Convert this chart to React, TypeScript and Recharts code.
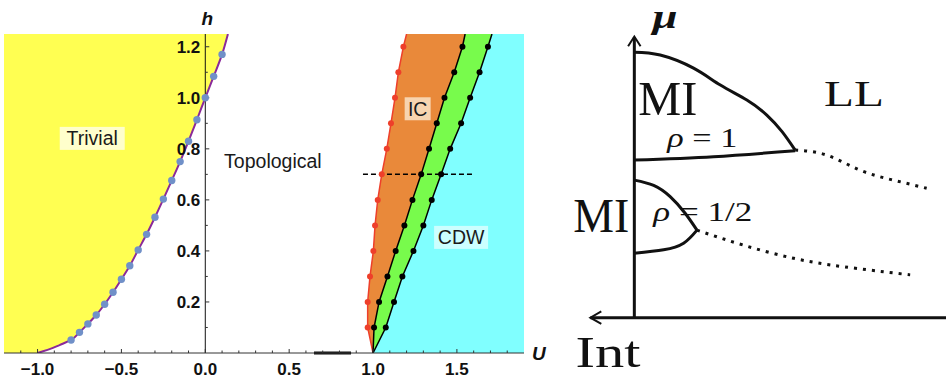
import React from 'react';
import {
  ComposedChart,
  Area,
  Line,
  XAxis,
  YAxis,
  ReferenceLine,
  ReferenceDot,
} from 'recharts';

// ---------- left panel: U-h phase diagram ----------
const uMin = -1.2;
const uMax = 1.9;
const hMax = 1.25;

const xMajorTicks = [-1.0, -0.5, 0.0, 0.5, 1.0, 1.5];
const xMinorTicks = [-1.1, -0.9, -0.8, -0.7, -0.6, -0.4, -0.3, -0.2, -0.1, 0.1, 0.2, 0.3, 0.4, 0.6, 0.7, 0.8, 0.9, 1.1, 1.2, 1.3, 1.4, 1.6, 1.7, 1.8];
const yMajorTicks = [0.2, 0.4, 0.6, 0.8, 1.0, 1.2];
const yMinorTicks = [0.1, 0.3, 0.5, 0.7, 0.9, 1.1];

// trivial / topological boundary
const trivialFootU = [-1.0, -0.928, -0.869];
const trivialFootH = [0.0, 0.015, 0.031];
const trivialDotsU = [-0.8, -0.75, -0.7, -0.65, -0.6, -0.55, -0.5, -0.45, -0.4, -0.35, -0.3, -0.25, -0.2, -0.15, -0.1, -0.05, 0.0, 0.05, 0.1];
const trivialDotsH = [0.051, 0.081, 0.114, 0.149, 0.191, 0.238, 0.289, 0.342, 0.404, 0.465, 0.532, 0.603, 0.676, 0.75, 0.83, 0.914, 1.0, 1.084, 1.17];
const trivialTopU = 0.135;

// IC / bridge / CDW boundaries, sampled at the same h
const phaseH = [0.0, 0.1, 0.2, 0.3, 0.4, 0.5, 0.6, 0.7, 0.8, 0.9, 1.0, 1.1, 1.2, 1.25];
const redU = [1.0, 0.968, 0.968, 0.982, 1.002, 1.012, 1.028, 1.052, 1.082, 1.107, 1.131, 1.151, 1.181, 1.2];
const black1U = [1.0, 1.006, 1.036, 1.086, 1.135, 1.187, 1.235, 1.287, 1.334, 1.38, 1.426, 1.484, 1.533, 1.549];
const black2U = [1.0, 1.076, 1.125, 1.175, 1.241, 1.3, 1.35, 1.406, 1.46, 1.525, 1.579, 1.635, 1.685, 1.709];

const cutH = 0.7;
const cutFrom = 0.94;
const cutTo = 1.6;
const axisBlipFrom = 0.648;
const axisBlipTo = 0.869;

const trivialDots = trivialDotsU.map((U, i) => ({ U, h: trivialDotsH[i] }));
const trivialLine = [
  ...trivialFootU.map((U, i) => ({ U, h: trivialFootH[i] })),
  ...trivialDots,
  { U: trivialTopU, h: hMax },
];
const trivialFill = trivialLine.map((p) => ({ ...p, band: [uMin, p.U] }));

const phaseData = phaseH.map((h, i) => ({
  h,
  red: redU[i],
  b1: black1U[i],
  b2: black2U[i],
  ic: [redU[i], black1U[i]],
  bridge: [black1U[i], black2U[i]],
  cdw: [black2U[i], uMax],
}));
const phaseMeasured = phaseData.slice(1, 13);

// ---------- right panel: sketch ----------
const muAxis = [{ x: 0, y: 0 }, { x: 0, y: 8.97 }];
const muArrow = [{ x: -0.2, y: 8.68 }, { x: 0, y: 8.99 }, { x: 0.2, y: 8.68 }];
const intAxis = [{ x: 10, y: 0 }, { x: -1.41, y: 0 }];
const intArrow = [{ x: -1.06, y: 0.2 }, { x: -1.41, y: 0 }, { x: -1.06, y: -0.2 }];

const upperLobeTop = [
  { x: 0, y: 8.49 }, { x: 0.83, y: 8.4 }, { x: 1.9, y: 7.98 }, { x: 2.76, y: 7.44 },
  { x: 3.61, y: 6.96 }, { x: 4.25, y: 6.48 }, { x: 4.74, y: 5.95 }, { x: 5.16, y: 5.36 },
];
const upperLobeBottom = [{ x: 0, y: 5.04 }, { x: 2.54, y: 5.15 }, { x: 5.16, y: 5.34 }];
const upperDotted = [{ x: 5.16, y: 5.36 }, { x: 6.17, y: 5.2 }, { x: 7.24, y: 4.72 }, { x: 8.31, y: 4.4 }, { x: 9.38, y: 4.14 }];

const lowerLobeTop = [{ x: 0, y: 4.4 }, { x: 0.62, y: 4.23 }, { x: 1.15, y: 3.87 }, { x: 1.63, y: 3.34 }, { x: 2.01, y: 2.8 }];
const lowerLobeBottom = [{ x: 2.01, y: 2.8 }, { x: 1.58, y: 2.38 }, { x: 0.94, y: 2.17 }, { x: 0, y: 2.06 }];
const lowerDotted = [{ x: 2.01, y: 2.8 }, { x: 3.5, y: 2.32 }, { x: 5.11, y: 1.9 }, { x: 6.71, y: 1.63 }, { x: 8.85, y: 1.37 }];

const SANS = '"Liberation Sans", Arial, sans-serif';
const SERIF = '"Liberation Serif", "Times New Roman", serif';

const fmt = (v: number) => (v < 0 ? '\u2212' + Math.abs(v).toFixed(1) : v.toFixed(1));

const XTick = (props: any) => {
  const { x, y, payload } = props;
  const major = xMajorTicks.includes(payload.value);
  return (
    <g>
      <line x1={x} x2={x} y1={y} y2={y - (major ? 4 : 2.5)} stroke="#333" strokeWidth={1} />
      {major && (
        <text x={x} y={y + 22} textAnchor="middle" fontFamily={SANS} fontWeight="bold" fontSize={17} fill="#111">
          {fmt(payload.value)}
        </text>
      )}
    </g>
  );
};

const PhaseLabel = ({ cx, cy, text, bg, w }: any) => (
  <g>
    {bg && <rect x={cx - w / 2} y={cy - 11.5} width={w} height={23} fill={bg} />}
    <text x={cx} y={cy + 7} textAnchor="middle" fontFamily={SANS} fontSize={19.5} fill="#1a1a1a">
      {text}
    </text>
  </g>
);

const SketchText = ({ cx, cy, children, size, len, italic, bold }: any) => (
  <text
    x={cx}
    y={cy}
    fontFamily={SERIF}
    fontSize={size}
    fontStyle={italic ? 'italic' : 'normal'}
    fontWeight={bold ? 'bold' : 'normal'}
    textLength={len}
    lengthAdjust={len ? 'spacingAndGlyphs' : undefined}
    fill="#111"
  >
    {children}
  </text>
);

function PhaseDiagram() {
  return (
    <ComposedChart width={560} height={378} layout="vertical" margin={{ top: 34, right: 36, bottom: 0, left: 4 }}>
      <XAxis
        type="number"
        dataKey="U"
        domain={[uMin, uMax]}
        ticks={[...xMajorTicks, ...xMinorTicks].sort((a, b) => a - b)}
        interval={0}
        tickSize={0}
        tickMargin={0}
        tickLine={false}
        axisLine={{ stroke: '#333' }}
        tick={<XTick />}
        height={25}
        allowDataOverflow
      />
      <YAxis type="number" dataKey="h" domain={[0, hMax]} reversed hide allowDataOverflow />

      <Area data={trivialFill} dataKey="band" type="monotone" fill="#FFFF52" fillOpacity={1} stroke="none" isAnimationActive={false} />
      <Area data={phaseData} dataKey="ic" type="linear" fill="#E9893A" fillOpacity={1} stroke="none" isAnimationActive={false} />
      <Area data={phaseData} dataKey="bridge" type="linear" fill="#78FB4C" fillOpacity={1} stroke="none" isAnimationActive={false} />
      <Area data={phaseData} dataKey="cdw" type="linear" fill="#80FFFF" fillOpacity={1} stroke="none" isAnimationActive={false} />

      <ReferenceLine x={0} stroke="#111" strokeWidth={1} />
      <ReferenceLine segment={[{ x: axisBlipFrom, y: 0 }, { x: axisBlipTo, y: 0 }]} stroke="#111" strokeWidth={3} />
      {yMajorTicks.map((t) => (
        <ReferenceDot
          key={`ym-${t}`}
          x={0}
          y={t}
          ifOverflow="visible"
          shape={(p: any) => (
            <g>
              <line x1={p.cx} x2={p.cx + 4} y1={p.cy} y2={p.cy} stroke="#333" />
              <text x={p.cx - 5} y={p.cy + 6} textAnchor="end" fontFamily={SANS} fontWeight="bold" fontSize={17} fill="#111">
                {t.toFixed(1)}
              </text>
            </g>
          )}
        />
      ))}
      {yMinorTicks.map((t) => (
        <ReferenceDot
          key={`yn-${t}`}
          x={0}
          y={t}
          ifOverflow="visible"
          shape={(p: any) => <line x1={p.cx} x2={p.cx + 2.5} y1={p.cy} y2={p.cy} stroke="#333" />}
        />
      ))}

      <Line data={trivialLine} dataKey="U" type="monotone" stroke="#8A2A9A" strokeWidth={2} dot={false} activeDot={false} isAnimationActive={false} />
      <Line data={trivialDots} dataKey="U" stroke="none" dot={{ r: 3.7, fill: '#7090C8', stroke: 'none' }} activeDot={false} isAnimationActive={false} />

      <Line data={phaseData} dataKey="red" type="linear" stroke="#EE3F2A" strokeWidth={1.5} dot={false} activeDot={false} isAnimationActive={false} />
      <Line data={phaseData} dataKey="b1" type="linear" stroke="#000" strokeWidth={1.5} dot={false} activeDot={false} isAnimationActive={false} />
      <Line data={phaseData} dataKey="b2" type="linear" stroke="#000" strokeWidth={1.5} dot={false} activeDot={false} isAnimationActive={false} />
      <Line data={phaseMeasured} dataKey="red" stroke="none" dot={{ r: 3, fill: '#EE3F2A', stroke: 'none' }} activeDot={false} isAnimationActive={false} />
      <Line data={phaseMeasured} dataKey="b1" stroke="none" dot={{ r: 3, fill: '#000', stroke: 'none' }} activeDot={false} isAnimationActive={false} />
      <Line data={phaseMeasured} dataKey="b2" stroke="none" dot={{ r: 3, fill: '#000', stroke: 'none' }} activeDot={false} isAnimationActive={false} />

      <ReferenceLine segment={[{ x: cutFrom, y: cutH }, { x: cutTo, y: cutH }]} stroke="#000" strokeWidth={1.5} strokeDasharray="5 3" />

      <ReferenceDot x={-0.674} y={0.841} ifOverflow="visible" shape={(p: any) => <PhaseLabel {...p} text="Trivial" bg="#FFFFCC" w={65} />} />
      <ReferenceDot x={0.403} y={0.751} ifOverflow="visible" shape={(p: any) => <PhaseLabel {...p} text="Topological" />} />
      <ReferenceDot x={1.266} y={0.957} ifOverflow="visible" shape={(p: any) => <PhaseLabel {...p} text="IC" bg="#F7D4B0" w={26} />} />
      <ReferenceDot x={1.525} y={0.453} ifOverflow="visible" shape={(p: any) => <PhaseLabel {...p} text="CDW" bg="#CCFFFF" w={54} />} />

      <ReferenceDot
        x={0}
        y={hMax}
        ifOverflow="visible"
        shape={(p: any) => (
          <text x={p.cx + 2} y={p.cy - 9} textAnchor="middle" fontFamily={SANS} fontWeight="bold" fontStyle="italic" fontSize={19} fill="#111">
            h
          </text>
        )}
      />
      <ReferenceDot
        x={uMax}
        y={0}
        ifOverflow="visible"
        shape={(p: any) => (
          <text x={p.cx + 8} y={p.cy + 7} fontFamily={SANS} fontWeight="bold" fontStyle="italic" fontSize={19} fill="#111">
            U
          </text>
        )}
      />
    </ComposedChart>
  );
}

function SketchDiagram() {
  const ink = '#111';
  const solid = { stroke: ink, strokeWidth: 3, dot: false, activeDot: false, isAnimationActive: false } as const;
  return (
    <ComposedChart width={386} height={378} margin={{ top: 5, right: 0, bottom: 4, left: 12 }}>
      <XAxis type="number" dataKey="x" domain={[-2, 10]} hide allowDataOverflow />
      <YAxis type="number" dataKey="y" domain={[-1.8, 10]} hide allowDataOverflow />

      <Line data={muAxis} dataKey="y" type="linear" {...solid} />
      <Line data={muArrow} dataKey="y" type="linear" {...solid} strokeWidth={2} />
      <Line data={intAxis} dataKey="y" type="linear" {...solid} />
      <Line data={intArrow} dataKey="y" type="linear" {...solid} strokeWidth={2} />

      <Line data={upperLobeTop} dataKey="y" type="natural" {...solid} />
      <Line data={upperLobeBottom} dataKey="y" type="natural" {...solid} />
      <Line data={upperDotted} dataKey="y" type="natural" {...solid} strokeDasharray="3 6" />
      <Line data={lowerLobeTop} dataKey="y" type="natural" {...solid} />
      <Line data={lowerLobeBottom} dataKey="y" type="natural" {...solid} />
      <Line data={lowerDotted} dataKey="y" type="natural" {...solid} strokeDasharray="3 6" />

      <ReferenceDot x={0.58} y={9.3} ifOverflow="visible" shape={(p: any) => <SketchText {...p} cy={p.cy + 1} size={33} len={25} italic bold>μ</SketchText>} />
      <ReferenceDot x={0.13} y={6.48} ifOverflow="visible" shape={(p: any) => <SketchText {...p} size={48} len={59}>MI</SketchText>} />
      <ReferenceDot x={6.09} y={6.77} ifOverflow="visible" shape={(p: any) => <SketchText {...p} size={36} len={60}>LL</SketchText>} />
      <ReferenceDot
        x={1.06}
        y={5.46}
        ifOverflow="visible"
        shape={(p: any) => (
          <SketchText {...p} size={27} len={70}>
            <tspan fontStyle="italic">ρ</tspan> = 1
          </SketchText>
        )}
      />
      <ReferenceDot x={-1.96} y={2.74} ifOverflow="visible" shape={(p: any) => <SketchText {...p} size={48} len={56}>MI</SketchText>} />
      <ReferenceDot
        x={0.61}
        y={3.09}
        ifOverflow="visible"
        shape={(p: any) => (
          <SketchText {...p} size={28} len={99}>
            <tspan fontStyle="italic">ρ</tspan> = 1/2
          </SketchText>
        )}
      />
      <ReferenceDot x={-1.89} y={-1.58} ifOverflow="visible" shape={(p: any) => <SketchText {...p} size={44} len={65}>Int</SketchText>} />
    </ComposedChart>
  );
}

export default function App() {
  return (
    <div style={{ position: 'absolute', left: 0, top: 0, width: 946, height: 378, background: '#fff', overflow: 'hidden' }}>
      <div style={{ position: 'absolute', left: 0, top: 0 }}>
        <PhaseDiagram />
      </div>
      <div style={{ position: 'absolute', left: 560, top: 0 }}>
        <SketchDiagram />
      </div>
    </div>
  );
}
